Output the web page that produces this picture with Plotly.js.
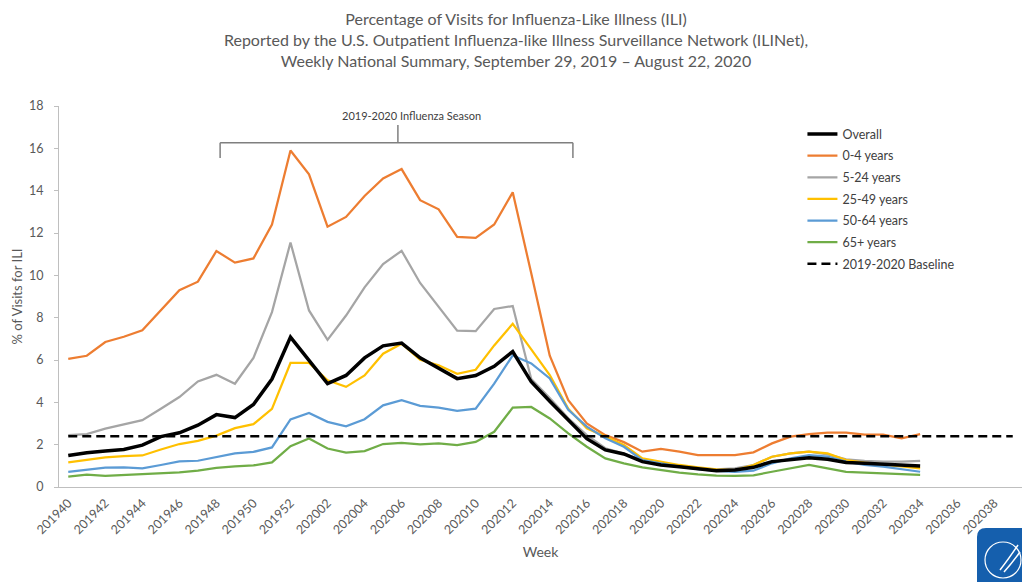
<!DOCTYPE html>
<html>
<head>
<meta charset="utf-8">
<script src="https://cdn.plot.ly/plotly-3.0.1.min.js"></script>
<style>html,body{margin:0;padding:0;background:#fff;}#chart{width:1022px;height:582px;}</style>
</head>
<body>
<div id="chart"></div>
<script>
// Week categories (MMWR week)
const weeks = ['201940','201941','201942','201943','201944','201945','201946','201947','201948','201949','201950','201951','201952',
  '202001','202002','202003','202004','202005','202006','202007','202008','202009','202010','202011','202012','202013',
  '202014','202015','202016','202017','202018','202019','202020','202021','202022','202023','202024','202025','202026',
  '202027','202028','202029','202030','202031','202032','202033','202034','202035','202036','202037','202038','202039'];

// % of visits for ILI, weeks 201940 .. 202034
const overall = [1.49,1.62,1.70,1.77,1.98,2.38,2.56,2.92,3.42,3.28,3.90,5.10,7.08,
  5.95,4.88,5.27,6.10,6.67,6.80,6.10,5.59,5.12,5.27,5.70,6.40,
  4.97,4.05,3.16,2.28,1.75,1.56,
  1.20,1.04,0.96,0.85,0.77,0.80,0.93,1.20,1.31,1.38,1.31,1.16,1.12,1.07,1.01,0.99];
const age0to4 = [6.05,6.20,6.85,7.10,7.40,8.35,9.30,9.70,11.15,10.60,10.80,12.40,15.90,
  14.77,12.30,12.76,13.75,14.58,15.02,13.55,13.12,11.82,11.77,12.40,13.92,
  10.10,6.20,4.10,3.00,2.45,2.12,
  1.67,1.80,1.67,1.51,1.51,1.51,1.64,2.06,2.38,2.50,2.57,2.57,2.47,2.47,2.30,2.50];
const age5to24 = [2.45,2.50,2.76,2.97,3.16,3.70,4.25,4.99,5.30,4.88,6.10,8.26,11.55,
  8.34,6.95,8.10,9.43,10.53,11.16,9.64,8.49,7.39,7.36,8.41,8.55,
  5.10,4.20,3.25,2.45,1.83,1.58,
  1.27,1.12,0.99,0.88,0.83,0.88,1.04,1.43,1.59,1.67,1.54,1.31,1.24,1.20,1.20,1.23];
const age25to49 = [1.16,1.27,1.40,1.46,1.49,1.77,2.03,2.18,2.43,2.78,2.97,3.69,5.86,
  5.86,5.04,4.73,5.27,6.30,6.77,6.01,5.75,5.35,5.54,6.69,7.71,
  6.50,5.29,3.70,2.77,2.38,1.98,
  1.35,1.20,1.04,0.93,0.83,0.80,1.04,1.43,1.59,1.67,1.59,1.27,1.15,1.07,0.96,0.88];
const age50to64 = [0.72,0.83,0.91,0.93,0.88,1.04,1.21,1.24,1.43,1.59,1.66,1.87,3.19,
  3.50,3.08,2.87,3.20,3.86,4.10,3.83,3.75,3.60,3.70,4.88,6.22,
  5.84,5.13,3.65,2.85,2.30,1.90,
  1.27,1.12,0.96,0.85,0.76,0.72,0.77,1.12,1.35,1.51,1.43,1.20,1.04,0.96,0.83,0.72];
const age65plus = [0.49,0.58,0.53,0.57,0.61,0.63,0.69,0.77,0.90,0.97,1.02,1.16,1.93,
  2.29,1.82,1.63,1.70,2.03,2.09,2.01,2.06,1.98,2.13,2.61,3.75,
  3.78,3.24,2.53,1.90,1.35,1.12,
  0.93,0.80,0.68,0.60,0.54,0.52,0.55,0.72,0.88,1.04,0.88,0.72,0.68,0.65,0.60,0.57];
const baselineValue = 2.4;

const seriesNames = ['Overall','0-4 years','5-24 years','25-49 years','50-64 years','65+ years','2019-2020 Baseline'];

const FONT = 'Lato, "Liberation Sans", Arial, sans-serif';
const idx = weeks.map((w, i) => i);
const lastIdx = weeks.length - 1;

function lineTrace(name, vals, color, width, rank) {
  return {
    type: 'scatter', mode: 'lines', name: name, legendgroup: name, legendrank: rank,
    x: idx.slice(0, vals.length), y: vals,
    line: {color: color, width: width},
    hovertemplate: name + ': %{y}<extra></extra>'
  };
}

const traces = [
  lineTrace(seriesNames[1], age0to4, '#ED7D31', 2.25, 2),
  lineTrace(seriesNames[2], age5to24, '#A5A5A5', 2.25, 3),
  lineTrace(seriesNames[3], age25to49, '#FFC000', 2.25, 4),
  lineTrace(seriesNames[4], age50to64, '#5B9BD5', 2.25, 5),
  lineTrace(seriesNames[5], age65plus, '#70AD47', 2.25, 6),
  lineTrace(seriesNames[0], overall, '#000000', 3.5, 1),
  {
    type: 'scatter', mode: 'lines', name: seriesNames[6], legendgroup: seriesNames[6], legendrank: 7,
    x: [idx[0], idx[lastIdx]], y: [baselineValue, baselineValue],
    line: {color: '#000000', width: 2.5, dash: '9px,5px'}
  }
];

const evenIdx = idx.filter(i => i % 2 === 0);
const evenLabels = evenIdx.map(i => weeks[i]);
const boundaries = weeks.map((w, i) => i - 0.5).concat([lastIdx + 0.5]);
const xRange = [-0.5, lastIdx + 0.5];
const axisGray = '#BFBFBF';
const textGray = '#595959';

// paper-coordinate helpers for decorations outside the plot
const PL = 59, PR = 1022, PT = 106, PB = 487;
const px = v => (v - PL) / (PR - PL);
const py = v => (PB - v) / (PB - PT);

const layout = {
  width: 1022, height: 582,
  margin: {l: PL, r: 0, t: PT, b: 582 - PB},
  paper_bgcolor: '#ffffff', plot_bgcolor: '#ffffff',
  font: {family: FONT, color: textGray},
  showlegend: true,
  title: {
    text: 'Percentage of Visits for Influenza-Like Illness (ILI)<br>Reported by the U.S. Outpatient Influenza-like Illness Surveillance Network (ILINet),<br>Weekly National Summary, September 29, 2019 \u2013 August 22, 2020',
    font: {family: FONT, size: 16, color: textGray},
    x: px(516), xref: 'paper', xanchor: 'center',
    y: 0.957, yref: 'container', yanchor: 'top'
  },
  xaxis: {
    range: xRange, tickmode: 'array', tickvals: evenIdx, ticktext: evenLabels,
    tickangle: -45, ticks: '', showline: true, linecolor: axisGray, linewidth: 1,
    showgrid: false, zeroline: false, ticklabelstandoff: 3,
    tickfont: {family: FONT, size: 12.5, color: textGray},
    title: {text: 'Week', font: {family: FONT, size: 14, color: textGray}, standoff: 11}
  },
  xaxis2: {
    overlaying: 'x', anchor: 'y', side: 'bottom', range: xRange,
    tickmode: 'array', tickvals: boundaries, ticks: 'outside', ticklen: 4, tickcolor: axisGray,
    showticklabels: false, showline: false, showgrid: false, zeroline: false
  },
  xaxis3: {
    overlaying: 'x', anchor: 'y', side: 'bottom', range: xRange,
    tickmode: 'array', tickvals: boundaries, ticks: 'inside', ticklen: 4, tickcolor: axisGray,
    showticklabels: false, showline: false, showgrid: false, zeroline: false
  },
  yaxis: {
    range: [0, 18], dtick: 2, tick0: 0, ticks: 'outside', ticklen: 4, tickcolor: axisGray,
    showline: true, linecolor: axisGray, linewidth: 1, showgrid: false, zeroline: false,
    ticklabelstandoff: 8,
    tickfont: {family: FONT, size: 12.5, color: textGray},
    title: {text: '% of Visits for ILI', font: {family: FONT, size: 13, color: textGray}, standoff: 3}
  },
  yaxis2: {
    overlaying: 'y', anchor: 'x', side: 'left', range: [0, 18], dtick: 2, tick0: 0,
    ticks: 'inside', ticklen: 4, tickcolor: axisGray,
    showticklabels: false, showline: false, showgrid: false, zeroline: false
  },
  legend: {
    x: 0.772, y: 0.965, xanchor: 'left', yanchor: 'top', xref: 'paper', yref: 'paper',
    bgcolor: 'rgba(0,0,0,0)', tracegroupgap: 2.4, traceorder: 'grouped',
    font: {family: FONT, size: 12.5, color: '#404040'}
  },
  shapes: [
    // season bracket
    {type: 'line', xref: 'x', yref: 'y', x0: 8.2, x1: 27.25, y0: 16.26, y1: 16.26, line: {color: '#7F7F7F', width: 1.5}},
    {type: 'line', xref: 'x', yref: 'y', x0: 8.2, x1: 8.2, y0: 16.26, y1: 15.54, line: {color: '#7F7F7F', width: 1.5}},
    {type: 'line', xref: 'x', yref: 'y', x0: 27.25, x1: 27.25, y0: 16.26, y1: 15.54, line: {color: '#7F7F7F', width: 1.5}},
    {type: 'line', xref: 'x', yref: 'y', x0: 17.8, x1: 17.8, y0: 16.26, y1: 17.1, line: {color: '#7F7F7F', width: 1.5}},
    // logo badge
    {type: 'path', xref: 'paper', yref: 'paper', layer: 'above',
     path: 'M ' + px(977) + ',' + py(582) + ' L ' + px(977) + ',' + py(537) + ' Q ' + px(977) + ',' + py(528) + ' ' + px(986) + ',' + py(528) +
           ' L ' + px(1022) + ',' + py(528) + ' L ' + px(1022) + ',' + py(582) + ' Z',
     fillcolor: '#155FAD', line: {width: 0}},
    {type: 'circle', xref: 'paper', yref: 'paper', layer: 'above',
     x0: px(985), x1: px(1021), y0: py(578), y1: py(542), line: {color: '#ffffff', width: 1.2}},
    {type: 'path', xref: 'paper', yref: 'paper', layer: 'above',
     path: 'M ' + px(1000) + ',' + py(570) + ' Q ' + px(1008) + ',' + py(560) + ' ' + px(1018) + ',' + py(545),
     line: {color: '#ffffff', width: 1.5}},
    {type: 'path', xref: 'paper', yref: 'paper', layer: 'above',
     path: 'M ' + px(1004) + ',' + py(572) + ' Q ' + px(1012) + ',' + py(563) + ' ' + px(1020) + ',' + py(552),
     line: {color: '#ffffff', width: 1.5}}
  ],
  annotations: [
    {text: '2019-2020 Influenza Season', xref: 'x', yref: 'y', x: 18.55, y: 17.57,
     showarrow: false, xanchor: 'center', yanchor: 'middle',
     font: {family: FONT, size: 11, color: '#404040'}}
  ]
};

Plotly.newPlot('chart', traces, layout, {displayModeBar: false, staticPlot: true});
</script>
</body>
</html>
